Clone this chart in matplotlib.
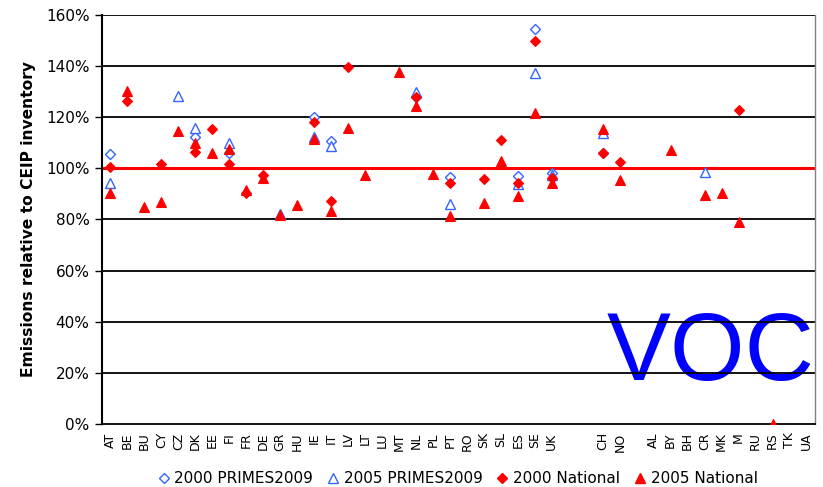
import numpy as np
import matplotlib
matplotlib.use("Agg")
import matplotlib.pyplot as plt
from matplotlib.ticker import FuncFormatter, MultipleLocator
from matplotlib.lines import Line2D

n = np.nan

countries = ["AT", "BE", "BU", "CY", "CZ", "DK", "EE", "FI", "FR", "DE",
             "GR", "HU", "IE", "IT", "LV", "LT", "LU", "MT", "NL", "PL",
             "PT", "RO", "SK", "SL", "ES", "SE", "UK", "", "", "CH",
             "NO", "", "AL", "BY", "BH", "CR", "MK", "M", "RU", "RS",
             "TK", "UA"]

# Emissions relative to CEIP inventory, in percent
primes_2000 = [105.5, n, n, n, n, 112.4, n, 105.9, n, n,
               n, n, 120.0, 110.8, n, n, n, n, 128.1, n,
               96.8, n, n, n, 97.2, 154.4, 98.3, n, n, 106.2,
               n, n, n, n, n, n, n, n, n, n,
               n, n]
primes_2005 = [94.4, n, n, n, 128.3, 115.9, n, 109.8, n, n,
               82.0, n, 112.4, 108.8, n, n, n, n, 130.0, n,
               86.1, n, n, n, 93.9, 137.4, 97.5, n, n, 114.0,
               n, n, n, n, n, 98.5, n, n, n, n,
               n, n]
national_2000 = [100.4, 126.2, n, 101.7, n, 106.3, 115.3, 101.7, 90.5, 97.4,
                 n, n, 118.3, 87.4, 139.8, n, n, n, 128.1, n,
                 94.4, n, 96.0, 111.1, 94.2, 150.0, 96.4, n, n, 105.9,
                 102.5, n, n, n, n, n, n, 122.9, n, n,
                 n, n]
national_2005 = [90.5, 130.4, 84.8, 86.9, 114.6, 109.8, 106.2, 107.5, 91.5, 96.1,
                 81.8, 85.8, 111.4, 83.5, 115.7, 97.4, n, 137.6, 124.4, 97.8,
                 81.4, n, 86.4, 103.0, 89.0, 121.8, 94.2, n, n, 115.4,
                 95.5, n, n, 107.2, n, 89.6, 90.3, 79.2, n, 0.0,
                 n, n]

blue = "#3366ff"
red = "#ff0000"

fig = plt.figure(figsize=(8.23, 4.87), dpi=100)
ax = fig.add_axes([0.1239, 0.1294, 0.8664, 0.8398])

x = np.arange(len(countries))

# big species label sits behind the grid
ax.text(0.707, 0.1076, "VOC", transform=ax.transAxes, fontsize=69,
        family="Liberation Sans", color="#0000ff", ha="left", va="baseline",
        zorder=0)

for yv in range(20, 170, 20):
    ax.axhline(yv, color="black", lw=1.3, zorder=1)
ax.axhline(100, color=red, lw=2.2, zorder=2)

ax.plot(x, primes_2000, linestyle="none", marker="D", ms=5.2, mfc="white",
        mec=blue, mew=1.0, zorder=3)
ax.plot(x, primes_2005, linestyle="none", marker="^", ms=7.5, mfc="white",
        mec=blue, mew=1.0, zorder=3)
ax.plot(x, national_2000, linestyle="none", marker="D", ms=5.2, mfc=red,
        mec=red, mew=0.8, zorder=4)
ax.plot(x, national_2005, linestyle="none", marker="^", ms=7.5, mfc=red,
        mec=red, mew=0.8, zorder=4)

ax.set_xlim(-0.5, len(countries) - 0.5)
ax.set_ylim(0, 160)
ax.yaxis.set_major_locator(MultipleLocator(20))
ax.yaxis.set_major_formatter(FuncFormatter(lambda v, p: f"{v:.0f}%"))
ax.set_xticks(x)
ax.set_xticklabels(countries, rotation=90, fontsize=9, family="DejaVu Sans")
ax.tick_params(axis="x", length=0, pad=6)
ax.tick_params(axis="y", length=5, width=1, direction="out", labelsize=11,
               pad=4)
for lab in ax.get_yticklabels():
    lab.set_family("DejaVu Sans")

ax.spines["left"].set_color("black")
ax.spines["left"].set_linewidth(1.5)
ax.spines["bottom"].set_color("black")
ax.spines["bottom"].set_linewidth(1.3)
ax.spines["top"].set_visible(False)
ax.spines["right"].set_color("#808080")
ax.spines["right"].set_linewidth(1.0)

ax.set_ylabel("Emissions relative to CEIP inventory", fontsize=11.2,
              fontweight="bold", family="DejaVu Sans", labelpad=7)

handles = [
    Line2D([], [], linestyle="none", marker="D", ms=5.2, mfc="white", mec=blue, mew=1.0),
    Line2D([], [], linestyle="none", marker="^", ms=7.5, mfc="white", mec=blue, mew=1.0),
    Line2D([], [], linestyle="none", marker="D", ms=5.2, mfc=red, mec=red),
    Line2D([], [], linestyle="none", marker="^", ms=7.5, mfc=red, mec=red),
]
labels = ["2000 PRIMES2009", "2005 PRIMES2009", "2000 National", "2005 National"]
fig.legend(handles, labels, loc="center", bbox_to_anchor=(0.556, 0.017),
           ncol=4, frameon=False, handlelength=0.8,
           handletextpad=0.3, columnspacing=0.9, borderpad=0,
           prop={"family": "DejaVu Sans", "size": 11})

fig.savefig("out.png", dpi=100)
